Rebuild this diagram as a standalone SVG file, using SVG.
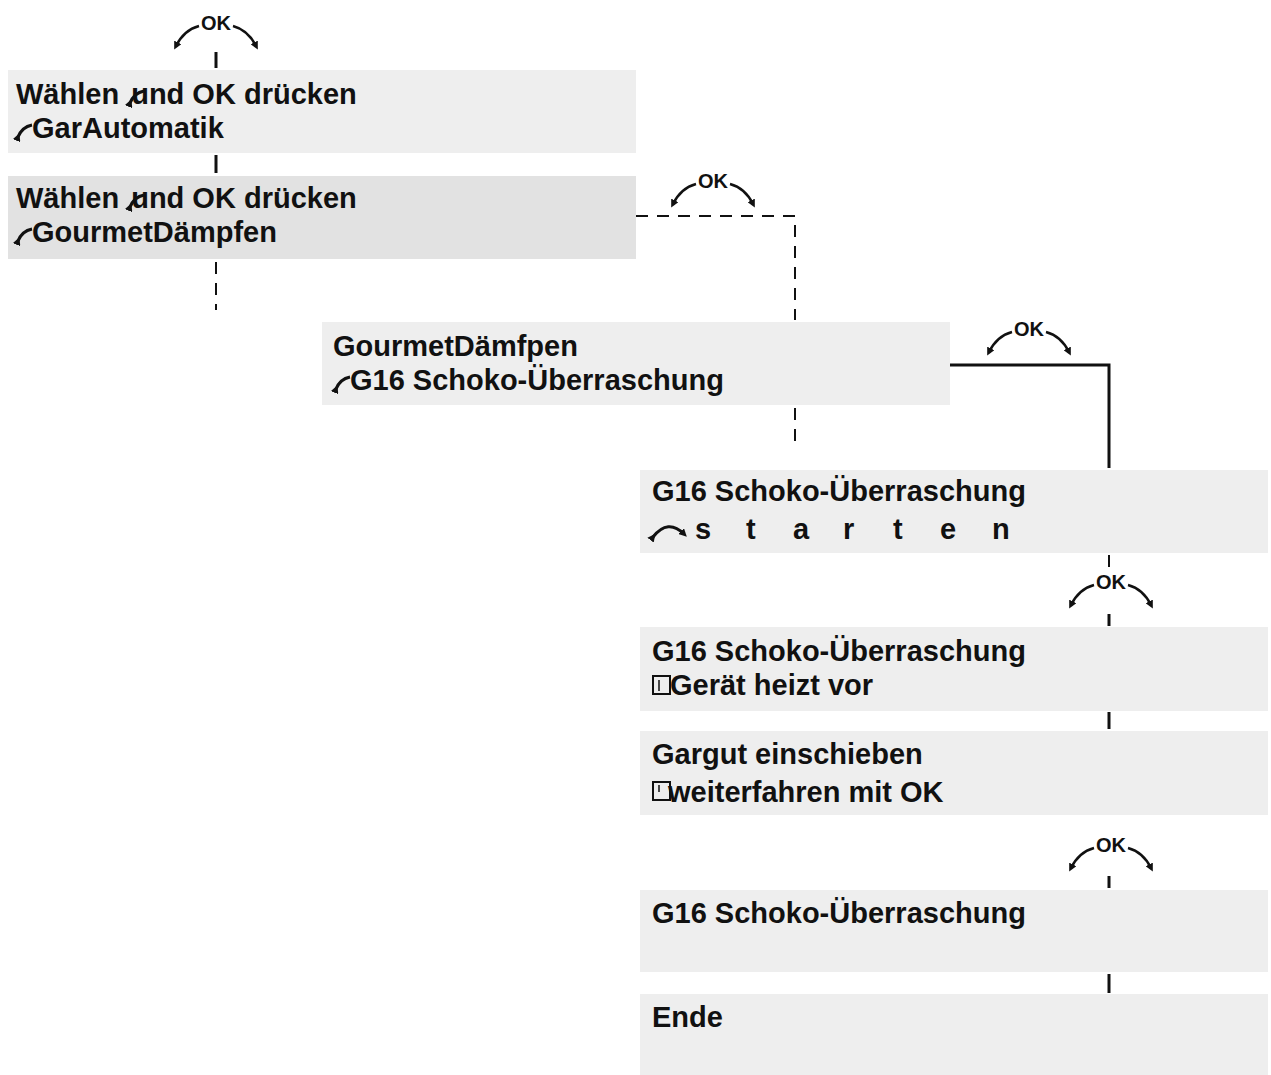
<svg xmlns="http://www.w3.org/2000/svg" width="1271" height="1075" viewBox="0 0 1271 1075">
<style>
.box{fill:#eeeeee}
.t{font-family:"Liberation Sans",Arial,sans-serif;font-weight:bold;font-size:29px;fill:#111}
.ok{font-family:"Liberation Sans",Arial,sans-serif;font-weight:bold;font-size:20px;fill:#111}
.c{stroke:#111;stroke-width:3;fill:none}
.d{stroke:#111;stroke-width:2;fill:none;stroke-dasharray:12,9}
</style>
<defs>
<marker id="ah" markerWidth="8" markerHeight="8" refX="4" refY="4" orient="auto" markerUnits="userSpaceOnUse"><path d="M0,0 L8,4 L0,8 z" fill="#111"/></marker>
<g id="okSym">
<text class="ok" x="0" y="0" text-anchor="middle">OK</text>
<path d="M-17,-4 Q-32,0 -40,16" stroke="#111" stroke-width="2.5" fill="none" marker-end="url(#ah)"/>
<path d="M17,-4 Q32,0 40,16" stroke="#111" stroke-width="2.5" fill="none" marker-end="url(#ah)"/>
</g>
<path id="turn" d="M0,12 Q4,2 14,0" stroke="#111" stroke-width="3" fill="none" marker-start="url(#ah)"/>
</defs>
<rect width="1271" height="1075" fill="#fff"/>
<g id="connectors">
<use href="#okSym" x="216" y="30"/>
<line class="c" x1="216" y1="52" x2="216" y2="68"/>
<line class="c" x1="216" y1="155" x2="216" y2="173"/>
<line class="d" x1="216" y1="262" x2="216" y2="310"/>
<use href="#okSym" x="713" y="188"/>
<polyline class="d" points="636,216 795,216 795,320"/>
<line class="d" x1="795" y1="408" x2="795" y2="445"/>
<use href="#okSym" x="1029" y="336"/>
<polyline class="c" points="950,365 1109,365 1109,468"/>
<line class="d" x1="1109" y1="555" x2="1109" y2="568"/>
<use href="#okSym" x="1111" y="589"/>
<line class="c" x1="1109" y1="614" x2="1109" y2="626"/>
<line class="c" x1="1109" y1="712" x2="1109" y2="729"/>
<use href="#okSym" x="1111" y="852"/>
<line class="c" x1="1109" y1="876" x2="1109" y2="888"/>
<line class="c" x1="1109" y1="974" x2="1109" y2="993"/>
</g>
<g id="n1">
<rect class="box" x="8" y="70" width="628" height="83"/>
<text class="t" x="16" y="104">Wählen <tspan dx="4">und OK drücken</tspan></text>
<use href="#turn" x="130" y="91"/>
<text class="t" x="32" y="138">GarAutomatik</text>
<use href="#turn" x="18" y="125"/>
</g>
<g id="n2">
<rect x="8" y="176" width="628" height="83" fill="#e2e2e2"/>
<text class="t" x="16" y="208">Wählen <tspan dx="4">und OK drücken</tspan></text>
<use href="#turn" x="130" y="195"/>
<text class="t" x="32" y="242">GourmetDämpfen</text>
<use href="#turn" x="18" y="229"/>
</g>
<g id="n3">
<rect class="box" x="322" y="322" width="628" height="83"/>
<text class="t" x="333" y="356">GourmetDämfpen</text>
<text class="t" x="350" y="390">G16 Schoko-Überraschung</text>
<use href="#turn" x="336" y="377"/>
</g>
<g id="n4">
<rect class="box" x="640" y="470" width="628" height="83"/>
<text class="t" x="652" y="501">G16 Schoko-Überraschung</text>
<path d="M653,537 Q668,518 684,534" stroke="#111" stroke-width="3" fill="none" marker-start="url(#ah)" marker-end="url(#ah)"/>
<text class="t" y="539"><tspan x="695">s</tspan><tspan x="746">t</tspan><tspan x="793">a</tspan><tspan x="843">r</tspan><tspan x="893">t</tspan><tspan x="940">e</tspan><tspan x="992">n</tspan></text>
</g>
<g id="n5">
<rect class="box" x="640" y="627" width="628" height="84"/>
<text class="t" x="652" y="661">G16 Schoko-Überraschung</text>
<rect x="653" y="676" width="17" height="18" fill="none" stroke="#111" stroke-width="2"/>
<line x1="659" y1="680" x2="659" y2="691" stroke="#111" stroke-width="1.5"/>
<text class="t" x="670" y="695">Gerät heizt vor</text>
</g>
<g id="n6">
<rect class="box" x="640" y="731" width="628" height="84"/>
<text class="t" x="652" y="764">Gargut einschieben</text>
<rect x="653" y="782" width="17" height="18" fill="none" stroke="#111" stroke-width="2"/>
<line x1="659" y1="785" x2="659" y2="792" stroke="#111" stroke-width="1.5"/>
<text class="t" x="668" y="802">weiterfahren mit OK</text>
</g>
<g id="n7">
<rect class="box" x="640" y="890" width="628" height="82"/>
<text class="t" x="652" y="923">G16 Schoko-Überraschung</text>
</g>
<g id="n8">
<rect class="box" x="640" y="994" width="628" height="81"/>
<text class="t" x="652" y="1027">Ende</text>
</g>
</svg>
